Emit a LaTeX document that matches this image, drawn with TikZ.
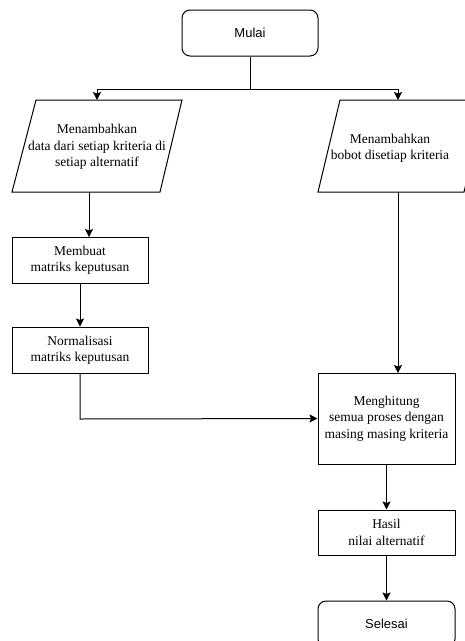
\documentclass[tikz,border=0pt]{standalone}
\usepackage{fontspec}
\setmainfont{Liberation Serif}
\newfontfamily\labelsans{Liberation Sans}
\usetikzlibrary{arrows.meta}
\tikzset{
  box/.style={draw, line width=1pt, minimum width=136pt, minimum height=46pt, inner sep=0pt, align=center, font=\fontsize{13.5}{16.5}\selectfont},
  term/.style={box, rounded corners=8pt, font=\labelsans\fontsize{13}{15}\selectfont},
  para/.style={draw, line width=1pt},
  txt/.style={align=center, inner sep=0pt, font=\fontsize{13.5}{16.5}\selectfont},
  conn/.style={line width=1pt},
  arr/.style={conn, -{Stealth[length=8pt, width=8pt, inset=1.5pt]}},
}
\begin{document}
\begin{tikzpicture}[x=1pt, y=-1pt]
\useasboundingbox (0,0) rectangle (465,641);
\clip (0,0) rectangle (465,641);
\node[term] (mulai) at (250,33) {Mulai};
\draw[para] (36,100) -- (182,100) -- (160,192) -- (12,192) -- cycle;
\node[txt] (p1) at (97,147) {Menambahkan\\data dari setiap kriteria di\\setiap alternatif};
\draw[para] (340,100) -- (486,100) -- (464,192) -- (318,192) -- cycle;
\node[txt] (p2) at (390,148) {Menambahkan\\bobot disetiap kriteria};
\node[box] (membuat) at (80,260) {Membuat\\matriks keputusan};
\node[box] (norm) at (80,350) {Normalisasi\\matriks keputusan};
\node[box, minimum width=137pt, minimum height=91pt] (hitung) at (386.5,418.5) {Menghitung\\semua proses dengan\\masing masing kriteria};
\node[box, minimum width=137pt, minimum height=45pt] (hasil) at (386.5,532.5) {Hasil\\nilai alternatif};
\node[term, minimum width=137pt] (selesai) at (386.5,624) {Selesai};
\coordinate (j) at (250,89);
\coordinate (p1top) at (97,100);
\coordinate (p2top) at (398,100);
\coordinate (p1bot) at (89,192);
\coordinate (mbtop) at (89,237);
\coordinate (p2bot) at (398,192);
\coordinate (hitop) at (398,373);
\coordinate (bend) at (80,419);
\draw[conn] (mulai.south) -- (j);
\draw[arr] (j) -| (p1top);
\draw[arr] (j) -| (p2top);
\draw[arr] (p1bot) -- (mbtop);
\draw[arr] (membuat.south) -- (norm.north);
\draw[arr] (norm.south) -- (bend) -- (hitung.west);
\draw[arr] (p2bot) -- (hitop);
\draw[arr] (hitung.south) -- (hasil.north);
\draw[arr] (hasil.south) -- (selesai.north);
\end{tikzpicture}
\end{document}
